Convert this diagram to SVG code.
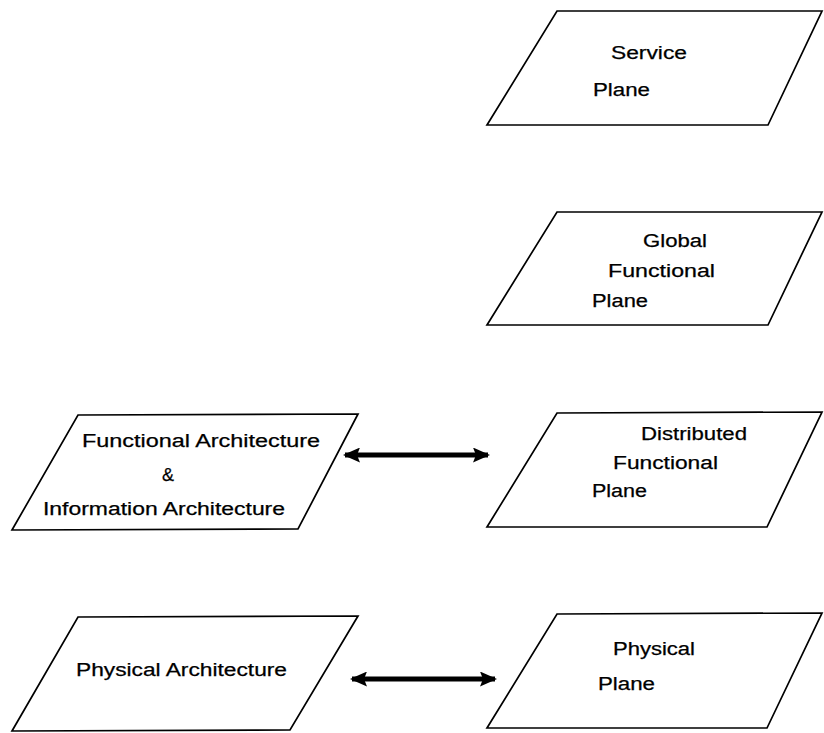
<svg xmlns="http://www.w3.org/2000/svg" width="824" height="733" viewBox="0 0 824 733">
<style>
.box{fill:#fff;stroke:#000;stroke-width:1.7;stroke-linejoin:miter}
.t{font-family:"Liberation Sans",Arial,Helvetica,sans-serif;font-size:18px;fill:#000;stroke:#000;stroke-width:0.25}
.arr{stroke:#000;stroke-width:5;fill:none}
</style>
<defs>
<marker id="ah" markerUnits="userSpaceOnUse" markerWidth="17" markerHeight="15" refX="15" refY="7.5" orient="auto-start-reverse" viewBox="0 0 17 15">
<path d="M0,0 L17,7.5 L0,15 L3,7.5 z" fill="#000"/>
</marker>
</defs>
<rect width="824" height="733" fill="#fff"/>
<g id="service-plane">
<polygon class="box" points="557,11 822,11 768,125 487,125"/>
<text class="t" x="611" y="59" textLength="76" lengthAdjust="spacingAndGlyphs">Service</text>
<text class="t" x="593" y="96" textLength="57" lengthAdjust="spacingAndGlyphs">Plane</text>
</g>
<g id="global-functional-plane">
<polygon class="box" points="557,212 822,212 768,325 487,325"/>
<text class="t" x="643" y="247" textLength="64" lengthAdjust="spacingAndGlyphs">Global</text>
<text class="t" x="608" y="277" textLength="107" lengthAdjust="spacingAndGlyphs">Functional</text>
<text class="t" x="592" y="307" textLength="56" lengthAdjust="spacingAndGlyphs">Plane</text>
</g>
<g id="distributed-functional-plane">
<polygon class="box" points="557,413 822,412 767,527 487,527"/>
<text class="t" x="641" y="440" textLength="106" lengthAdjust="spacingAndGlyphs">Distributed</text>
<text class="t" x="613" y="469" textLength="105" lengthAdjust="spacingAndGlyphs">Functional</text>
<text class="t" x="592" y="497" textLength="55" lengthAdjust="spacingAndGlyphs">Plane</text>
</g>
<g id="physical-plane">
<polygon class="box" points="557,614 822,613 767,728 487,728"/>
<text class="t" x="613" y="655" textLength="82" lengthAdjust="spacingAndGlyphs">Physical</text>
<text class="t" x="598" y="690" textLength="57" lengthAdjust="spacingAndGlyphs">Plane</text>
</g>
<g id="functional-information-architecture">
<polygon class="box" points="78,415 358,414 298,529 12,530"/>
<text class="t" x="82" y="447" textLength="238" lengthAdjust="spacingAndGlyphs">Functional Architecture</text>
<text class="t" x="162" y="481">&amp;</text>
<text class="t" x="43" y="515" textLength="242" lengthAdjust="spacingAndGlyphs">Information Architecture</text>
</g>
<g id="physical-architecture">
<polygon class="box" points="78,617 358,616 290,730 12,731"/>
<text class="t" x="76" y="676" textLength="211" lengthAdjust="spacingAndGlyphs">Physical Architecture</text>
</g>
<g id="connectors">
<line class="arr" x1="345" y1="455" x2="488" y2="455" marker-start="url(#ah)" marker-end="url(#ah)"/>
<line class="arr" x1="352" y1="679" x2="495" y2="679" marker-start="url(#ah)" marker-end="url(#ah)"/>
</g>
</svg>
